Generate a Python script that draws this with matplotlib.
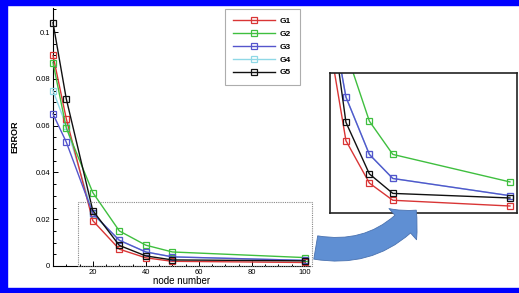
import matplotlib
matplotlib.use("Agg")
import matplotlib.pyplot as plt
from matplotlib.patches import Rectangle, FancyArrowPatch
from matplotlib.ticker import AutoMinorLocator

plt.rcParams['font.family'] = ['Liberation Sans', 'DejaVu Sans']

node_number = [5, 10, 20, 30, 40, 50, 100]
series_names = ["G1", "G2", "G3", "G4", "G5"]
G1 = [0.090, 0.063, 0.0194, 0.0072, 0.0035, 0.0020, 0.0015]
G2 = [0.087, 0.059, 0.0314, 0.0150, 0.0089, 0.0060, 0.0036]
G3 = [0.065, 0.053, 0.0225, 0.0110, 0.0060, 0.0039, 0.0024]
G4 = [0.075, 0.060, 0.0222, 0.0110, 0.0060, 0.0039, 0.0024]
G5 = [0.104, 0.0715, 0.0237, 0.0088, 0.0043, 0.0026, 0.0022]
series = [G1, G2, G3, G4, G5]
colors = ["#d93535", "#3fbf3f", "#5555cc", "#8fd8e6", "#111111"]
xticks = [20, 40, 60, 80, 100]
yticks = [0, 0.02, 0.04, 0.06, 0.08, 0.1]
ytick_labels = ["0", "0.02", "0.04", "0.06", "0.08", "0.1"]

W, H = 519, 293
fig = plt.figure(figsize=(W / 100, H / 100), dpi=100)

def fx(px):
    return px / W

def fy(py):
    return 1 - py / H

# main axes
ax = fig.add_axes([fx(53), fy(266), fx(310) - fx(53), fy(8) - fy(266)])
order = [3, 0, 1, 2, 4]
handles = {}
for i in order:
    ln, = ax.plot(node_number, series[i], color=colors[i], lw=1.0, marker='s',
                  markersize=4.8, markerfacecolor='none', markeredgewidth=0.9,
                  label=series_names[i], clip_on=False, zorder=3)
    handles[i] = ln
ax.set_xlim(5, 101.9)
ax.set_ylim(0, 0.1103)
ax.spines['top'].set_visible(False)
ax.spines['right'].set_visible(False)
ax.set_xticks(xticks)
ax.set_yticks(yticks)
ax.set_yticklabels(ytick_labels)
ax.xaxis.set_minor_locator(AutoMinorLocator(4))
ax.yaxis.set_minor_locator(AutoMinorLocator(4))
ax.tick_params(which='both', direction='in', labelsize=5.5, width=0.7)
ax.tick_params(which='major', length=3.5, pad=2)
ax.tick_params(which='minor', length=1.8)
ax.set_xlabel("node number", fontsize=7, labelpad=0.5)
ax.set_ylabel("ERROR", fontsize=6.5, fontweight='bold', va='center')
ax.yaxis.set_label_coords(-0.148, 0.5)

leg = ax.legend([handles[i] for i in range(5)], series_names, loc='upper left',
                bbox_to_anchor=(fx(225), fy(9)), bbox_transform=fig.transFigure,
                prop={'weight': 'bold', 'size': 6}, frameon=True,
                fancybox=False, edgecolor='#999999', handlelength=5.0,
                labelspacing=0.6, borderpad=1.0, handletextpad=0.6,
                borderaxespad=0)
leg.get_frame().set_linewidth(0.8)

# dotted zoom rectangle (figure coords)
fig.patches.append(Rectangle((fx(78), fy(266)), fx(312) - fx(78), fy(202) - fy(266),
                             transform=fig.transFigure, fill=False,
                             edgecolor='#888888', lw=0.8, ls=(0, (1, 1)), zorder=1))

# inset axes
ins = fig.add_axes([fx(330), fy(213), fx(517) - fx(330), fy(73) - fy(213)])
for i in order:
    ins.plot(node_number, series[i], color=colors[i], lw=1.0, marker='s',
             markersize=4.8, markerfacecolor='none', markeredgewidth=0.9)
ins.set_xlim(23.2, 103)
ins.set_ylim(0.00089, 0.0131)
ins.set_xticks([])
ins.set_yticks([])
for s in ins.spines.values():
    s.set_linewidth(1.2)
    s.set_color('#222222')

# curved arrow
arrow = FancyArrowPatch((fx(313), fy(247)), (fx(418), fy(208)),
                        transform=fig.transFigure,
                        connectionstyle="arc3,rad=0.3",
                        arrowstyle="simple,head_width=1.5,head_length=0.7,tail_width=0.85",
                        mutation_scale=20, facecolor='#5f8fd3', edgecolor='#4a72b0',
                        lw=0.6, zorder=2)
fig.patches.append(arrow)

# blue frame
blue = '#0000ff'
fig.patches.append(Rectangle((0, 0), 1, fy(288), transform=fig.transFigure, color=blue, zorder=10))
fig.patches.append(Rectangle((0, fy(5)), 1, 1 - fy(5), transform=fig.transFigure, color=blue, zorder=10))
fig.patches.append(Rectangle((0, 0), fx(7), 1, transform=fig.transFigure, color=blue, zorder=10))

fig.savefig("out.png", dpi=100)
